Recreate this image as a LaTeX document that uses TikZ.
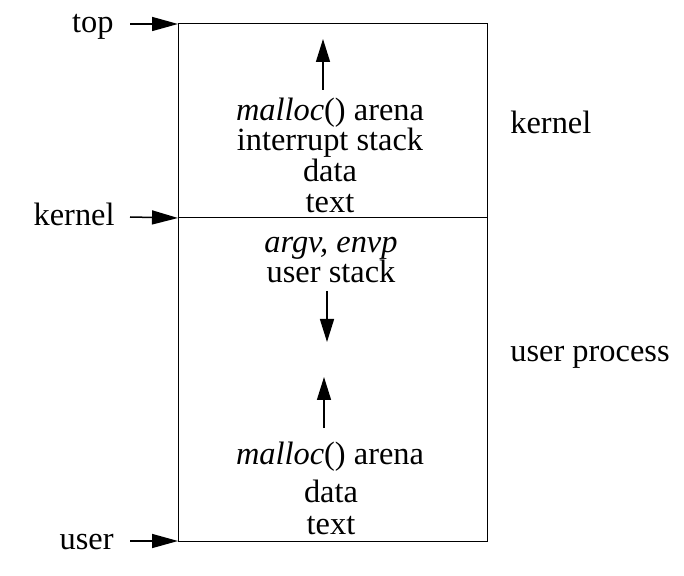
\documentclass[tikz,border=0pt]{standalone}
\usepackage{fontspec}
\setmainfont{Liberation Serif}
\usepackage{tikz}
\usetikzlibrary{arrows.meta, positioning}

\begin{document}
\begin{tikzpicture}[x=0.5pt, y=-0.5pt,
  txt/.style={anchor=base, font=\fontsize{16.2pt}{15.5pt}\selectfont, inner sep=0pt},
  growarr/.style={-{Triangle[length=11.5pt, width=7pt]}, line width=0.75pt},
  ptr/.style={-{Triangle[length=13pt, width=7pt]}, line width=0.75pt}
]
\useasboundingbox (0,0) rectangle (684,576);
% address space
\coordinate (tl) at (178,24);
\coordinate (ml) at (178,218);
\coordinate (mr) at (487,218);
\coordinate (bl) at (178,541);
\draw[line width=0.5pt] (tl) rectangle (487,541);
\draw[line width=0.5pt] (ml) -- (mr);
% kernel part
\node[txt] at (330,121) (karena) {\textit{malloc}() arena};
\node[txt] at (330,151) (kistk)  {interrupt stack};
\node[txt] at (330,182) (kdata)  {data};
\node[txt] at (330,213) (ktext)  {text};
\coordinate (ktip) at (323,39);
\draw[growarr] (323,90) -- (ktip);
% user part
\node[txt] at (331,253) (argv)   {\textit{argv, envp}};
\node[txt] at (331,283) (ustk)   {user stack};
\node[txt] at (330,464) (uarena) {\textit{malloc}() arena};
\node[txt] at (331,502) (udata)  {data};
\node[txt] at (331,534) (utext)  {text};
\coordinate (dtip) at (327,342);
\coordinate (utip) at (324,377);
\draw[growarr] (327,291) -- (dtip);
\draw[growarr] (324,428) -- (utip);
% address labels
\node[txt, anchor=base east] at (114,33)  (top)  {top};
\node[txt, anchor=base east] at (115,226) (kern) {kernel};
\node[txt, anchor=base east] at (114,549) (user) {user};
\draw[ptr] (130,24)  -- (tl);
\draw[ptr] (130,217) -- (ml);
\draw[ptr] (130,541) -- (bl);
% region names
\node[txt, anchor=base west] at (510,134) (kname) {kernel};
\node[txt, anchor=base west] at (510,362) (uname) {user process};
\end{tikzpicture}
\end{document}
